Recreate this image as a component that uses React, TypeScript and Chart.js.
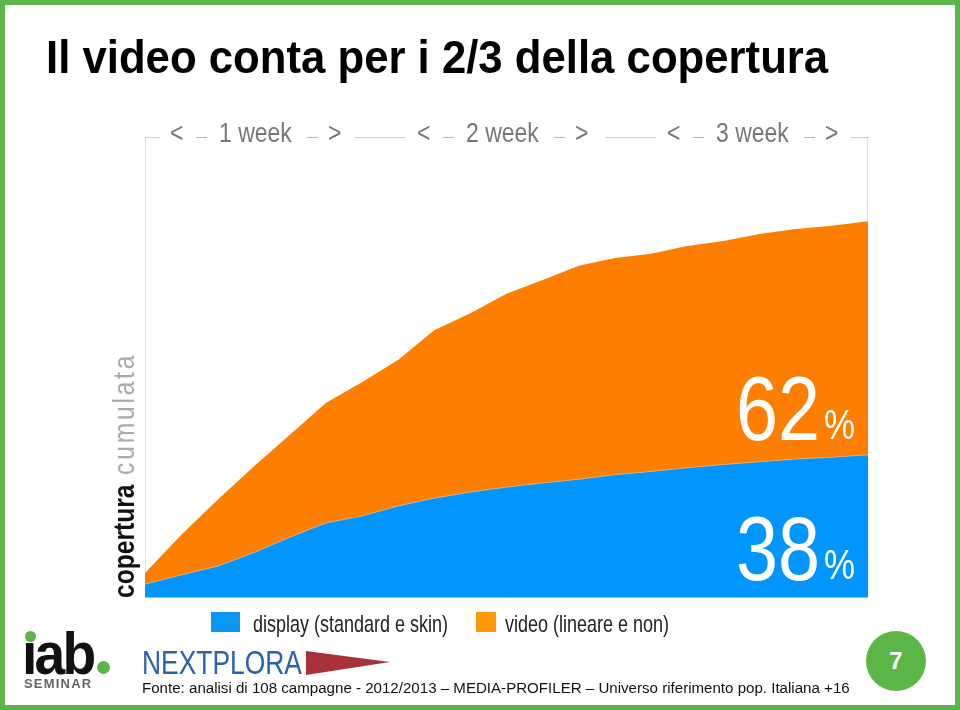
import React, { useEffect, useRef } from "react";
import { Chart, registerables } from "chart.js";
Chart.register(...registerables);

const days = ["1","2","3","4","5","6","7","8","9","10","11","12","13","14","15","16","17","18","19","20","21"];
const displayValues = [2.8, 4.8, 6.7, 9.6, 13.0, 16.1, 17.6, 19.8, 21.5, 22.8, 23.9, 24.8, 25.6, 26.6, 27.3, 28.1, 28.8, 29.4, 30.0, 30.4, 30.9];
const videoValues = [2.4, 8.7, 14.4, 18.7, 22.2, 26.1, 29.1, 31.7, 36.5, 38.9, 42.0, 44.1, 46.4, 47.1, 47.3, 48.2, 48.6, 49.5, 50.0, 50.3, 50.8];
const weekLabels = ["1 week", "2 week", "3 week"];
const seriesLabels = ["display (standard e skin)", "video (lineare e non)"];
const shareLabels = ["62", "38"];

const BLUE = "#0096fe";
const ORANGE = "#fe7f00";
const GREEN = "#5cb547";
const SANS = '"Liberation Sans", Arial, sans-serif';

function Txt(props: { x: number; base: number; size: number; sx?: number; children: any; style?: any }) {
  const { x, base, size, sx, children, style } = props;
  return (
    <div
      style={{
        position: "absolute",
        left: x,
        top: base - 0.8465 * size,
        fontSize: size,
        lineHeight: 1,
        whiteSpace: "nowrap",
        fontFamily: SANS,
        transform: sx ? `scaleX(${sx})` : undefined,
        transformOrigin: "0 0",
        ...style,
      }}
    >
      {children}
    </div>
  );
}

function HLine(props: { x1: number; x2: number; y: number; color?: string }) {
  return (
    <div
      style={{
        position: "absolute",
        left: props.x1,
        top: props.y,
        width: props.x2 - props.x1,
        height: 1,
        background: props.color || "#cfcfcf",
      }}
    />
  );
}

export default function App() {
  const ref = useRef<HTMLCanvasElement | null>(null);

  useEffect(() => {
    if (!ref.current) return;
    const framePlugin = {
      id: "frame",
      beforeDatasetsDraw(chart: any) {
        const { ctx, chartArea } = chart;
        ctx.save();
        ctx.strokeStyle = "#dcdcdc";
        ctx.lineWidth = 1;
        ctx.beginPath();
        ctx.moveTo(chartArea.left + 0.5, chartArea.top);
        ctx.lineTo(chartArea.left + 0.5, chartArea.bottom);
        ctx.moveTo(chartArea.right - 0.5, chartArea.top);
        ctx.lineTo(chartArea.right - 0.5, chartArea.bottom);
        ctx.stroke();
        ctx.restore();
      },
      afterDatasetsDraw(chart: any) {
        const { ctx, chartArea } = chart;
        ctx.save();
        ctx.strokeStyle = "#7fcaff";
        ctx.lineWidth = 1;
        ctx.beginPath();
        ctx.moveTo(chartArea.left, chartArea.bottom + 0.5);
        ctx.lineTo(chartArea.right, chartArea.bottom + 0.5);
        ctx.stroke();
        ctx.restore();
      },
    };
    const chart = new Chart(ref.current, {
      type: "line",
      data: {
        labels: days,
        datasets: [
          {
            label: seriesLabels[0],
            data: displayValues,
            backgroundColor: BLUE,
            borderColor: "rgba(235,170,110,0.9)",
            borderWidth: 1,
            pointRadius: 0,
            tension: 0,
            fill: "origin",
          },
          {
            label: seriesLabels[1],
            data: videoValues,
            backgroundColor: ORANGE,
            borderColor: ORANGE,
            borderWidth: 0,
            pointRadius: 0,
            tension: 0,
            fill: "-1",
          },
        ],
      },
      options: {
        responsive: false,
        animation: false,
        layout: { padding: { left: 145, right: 92, top: 137, bottom: 113 } },
        plugins: { legend: { display: false }, tooltip: { enabled: false } },
        scales: {
          x: { display: false, offset: false },
          y: { display: false, stacked: true, min: 0, max: 100 },
        },
      },
      plugins: [framePlugin],
    });
    return () => chart.destroy();
  }, []);

  const groupLeft = [171, 418, 668];
  const gray = "#777";

  return (
    <div
      style={{
        position: "absolute",
        left: 0,
        top: 0,
        width: 960,
        height: 710,
        background: "#fff",
        overflow: "hidden",
      }}
    >
      <canvas ref={ref} width={960} height={710} style={{ position: "absolute", left: 0, top: 0, width: 960, height: 710 }} />

      {/* green border */}
      <div style={{ position: "absolute", left: 0, top: 0, width: 960, height: 710, boxSizing: "border-box", border: `5px solid ${GREEN}`, pointerEvents: "none" }} />

      {/* title */}
      <Txt x={46} base={73} size={47} sx={0.93} style={{ fontWeight: "bold", color: "#000" }}>
        Il video conta per i 2/3 della copertura
      </Txt>

      {/* week header */}
      <HLine x1={145} x2={160} y={137} />
      <HLine x1={354} x2={406} y={137} />
      <HLine x1={605} x2={656} y={137} />
      <HLine x1={850} x2={869} y={137} />
      {weekLabels.map((w, i) => {
        const g = groupLeft[i];
        return (
          <React.Fragment key={w}>
            <Txt x={g - 1} base={143} size={28} sx={0.82} style={{ color: gray }}>{"<"}</Txt>
            <HLine x1={g + 25} x2={g + 36} y={137} color="#b5b5b5" />
            <Txt x={g + 48} base={143} size={28} sx={0.82} style={{ color: gray }}>{w}</Txt>
            <HLine x1={g + 136} x2={g + 147} y={137} color="#b5b5b5" />
            <Txt x={g + 157} base={143} size={28} sx={0.82} style={{ color: gray }}>{">"}</Txt>
          </React.Fragment>
        );
      })}

      {/* y axis title */}
      <div
        style={{
          position: "absolute",
          left: 109,
          top: 598,
          transform: "rotate(-90deg) scaleX(0.82)",
          transformOrigin: "0 0",
          fontSize: 30,
          lineHeight: 1,
          whiteSpace: "nowrap",
          fontFamily: SANS,
        }}
      >
        <span style={{ fontWeight: "bold", color: "#111" }}>copertura</span>
        <span style={{ color: "#aaa", letterSpacing: 3.4 }}> cumulata</span>
      </div>

      {/* share labels */}
      <Txt x={736} base={440} size={91} sx={0.83} style={{ color: "#fff" }}>{shareLabels[0]}</Txt>
      <Txt x={824} base={440} size={42} sx={0.83} style={{ color: "#fff" }}>%</Txt>
      <Txt x={736} base={580} size={91} sx={0.83} style={{ color: "#fff" }}>{shareLabels[1]}</Txt>
      <Txt x={824} base={580} size={42} sx={0.83} style={{ color: "#fff" }}>%</Txt>

      {/* legend */}
      <div style={{ position: "absolute", left: 211, top: 612, width: 29, height: 20, background: "#0a97f4" }} />
      <Txt x={253} base={632} size={24} sx={0.75} style={{ color: "#222" }}>{seriesLabels[0]}</Txt>
      <div style={{ position: "absolute", left: 476, top: 612, width: 20, height: 20, background: "#ff9a05" }} />
      <Txt x={505} base={632} size={24} sx={0.75} style={{ color: "#222" }}>{seriesLabels[1]}</Txt>

      {/* iab logo */}
      <Txt x={22} base={675} size={60} sx={0.92} style={{ fontWeight: "bold", color: "#111", letterSpacing: -3 }}>{"\u0131ab"}</Txt>
      <div style={{ position: "absolute", left: 25, top: 631, width: 11, height: 11, borderRadius: "50%", background: GREEN }} />
      <div style={{ position: "absolute", left: 97, top: 661, width: 13, height: 13, borderRadius: "50%", background: GREEN }} />
      <Txt x={24} base={688} size={13} style={{ fontWeight: "bold", color: "#666", letterSpacing: 1.2 }}>SEMINAR</Txt>

      {/* nextplora logo */}
      <Txt x={142} base={674} size={33} sx={0.8} style={{ color: "#2a62b0" }}>NEXTPLORA</Txt>
      <div style={{ position: "absolute", left: 306, top: 651, width: 84, height: 24, background: "#a8323a", clipPath: "polygon(0 0, 100% 46%, 0 100%)" }} />

      {/* footer */}
      <Txt x={142} base={693} size={15.1} style={{ color: "#111" }}>
        Fonte: analisi di 108 campagne - 2012/2013 – MEDIA-PROFILER – Universo riferimento pop. Italiana +16
      </Txt>

      {/* page number */}
      <div style={{ position: "absolute", left: 866, top: 631, width: 60, height: 60, borderRadius: "50%", background: GREEN, color: "#fff", fontFamily: SANS, fontWeight: "bold", fontSize: 24, lineHeight: "60px", textAlign: "center" }}>7</div>
    </div>
  );
}
